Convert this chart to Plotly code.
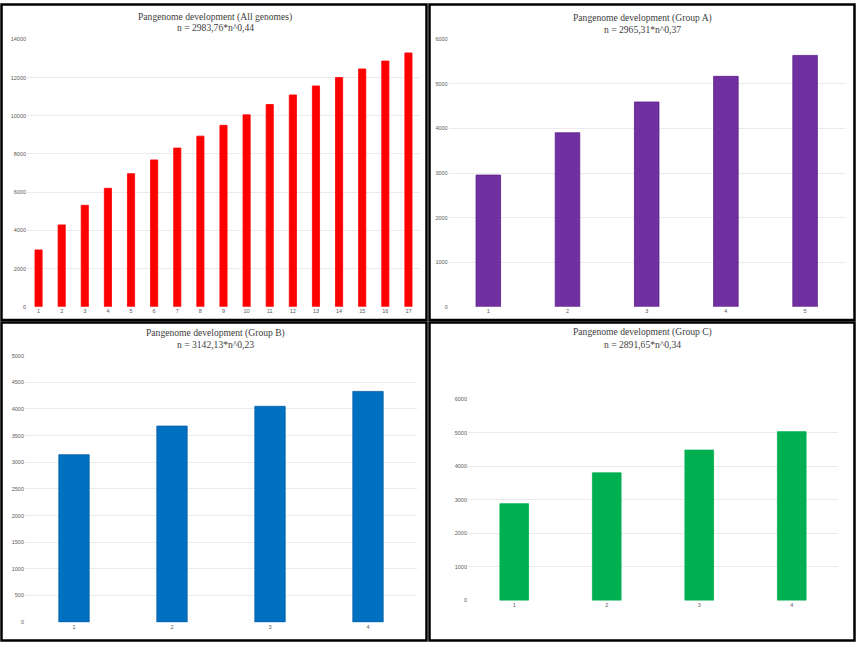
import plotly.graph_objects as go

W, H = 856, 645

# ---- data ----
all_n = list(range(1, 18))
all_vals = [2980, 4290, 5315, 6205, 6970, 7690, 8310, 8935, 9500, 10050,
            10590, 11090, 11560, 12000, 12450, 12865, 13290]
a_n = [1, 2, 3, 4, 5]
a_vals = [2955, 3905, 4595, 5170, 5640]
b_n = [1, 2, 3, 4]
b_vals = [3142, 3680, 4050, 4330]
c_n = [1, 2, 3, 4]
c_vals = [2885, 3805, 4485, 5035]

titles = [
    ("Pangenome development (All genomes)", "n = 2983,76*n^0,44"),
    ("Pangenome development (Group A)", "n = 2965,31*n^0,37"),
    ("Pangenome development (Group B)", "n = 3142,13*n^0,23"),
    ("Pangenome development (Group C)", "n = 2891,65*n^0,34"),
]
yticks = [
    [0, 2000, 4000, 6000, 8000, 10000, 12000, 14000],
    [0, 1000, 2000, 3000, 4000, 5000, 6000],
    [0, 500, 1000, 1500, 2000, 2500, 3000, 3500, 4000, 4500, 5000],
    [0, 1000, 2000, 3000, 4000, 5000, 6000],
]
ymax = [14000, 6000, 5000, 6000]
colors = ["#FF0000", "#7030A0", "#0070C0", "#00B050"]
lines = ["#FF0000", "#5A1E8C", "#0A5FA8", "#00B050"]

# pixel boxes of plot areas: x0, x1, ytop, ybottom
boxes = [
    (27, 420, 36.7, 306.7),
    (448.7, 844.7, 36.7, 306.7),
    (25, 417, 356, 625),
    (468, 838, 400, 603),
]
title_pos = [(215, 14, 25), (642, 15, 27), (215, 333, 345), (642, 332, 345)]

datasets = [(all_n, all_vals), (a_n, a_vals), (b_n, b_vals), (c_n, c_vals)]

fig = go.Figure()
tickfont = dict(family="Liberation Sans", size=5.5, color="#595959")
for i, (xs, ys) in enumerate(datasets):
    sfx = "" if i == 0 else str(i + 1)
    fig.add_trace(go.Bar(x=xs, y=ys, xaxis="x" + sfx, yaxis="y" + sfx,
                         marker=dict(color=colors[i], line=dict(color=lines[i], width=0.8)),
                         showlegend=False))
    x0, x1, yt, yb = boxes[i]
    fig.layout["xaxis" + sfx] = dict(
        domain=[x0 / W, x1 / W], anchor="y" + sfx, range=[0.5, len(xs) + 0.5],
        tickvals=xs, ticktext=[str(v) for v in xs], tickfont=tickfont,
        showgrid=False, zeroline=False, showline=False, ticks="", fixedrange=True)
    fig.layout["yaxis" + sfx] = dict(
        domain=[1 - yb / H, 1 - yt / H], anchor="x" + sfx, range=[0, ymax[i]],
        tickvals=yticks[i], ticktext=[str(v) for v in yticks[i]], tickfont=tickfont,
        showgrid=True, gridcolor="#EAEAEA",
        gridwidth=1, zeroline=False, showline=False, ticks="", fixedrange=True)
    cx, t1, t2 = title_pos[i]
    for txt, yy in ((titles[i][0], t1), (titles[i][1], t2)):
        fig.add_annotation(x=cx / W, y=1 - yy / H, xref="paper", yref="paper",
                           text=txt, showarrow=False, xanchor="center", yanchor="middle",
                           font=dict(family="Liberation Serif", size=9.6, color="#404040"))

# panel borders
rects = [(1.5, 1.5, 426.5, 320), (429.5, 1.5, 854.5, 320),
         (1.5, 322.5, 426.5, 643.5), (429.5, 322.5, 854.5, 643.5)]
for (a, b, c, d) in rects:
    fig.add_shape(type="rect", xref="paper", yref="paper",
                  x0=a / W, x1=c / W, y0=1 - d / H, y1=1 - b / H,
                  line=dict(color="black", width=2.5))

fig.update_layout(width=W, height=H, margin=dict(l=0, r=0, t=0, b=0),
                  paper_bgcolor="white", plot_bgcolor="white", bargap=0.69)
fig.write_html("out.html", config={"displayModeBar": False},
               post_script="document.body.style.margin='0';document.body.style.padding='0';"
                           "document.body.style.overflow='hidden';"
                           "document.documentElement.style.overflow='hidden';")
